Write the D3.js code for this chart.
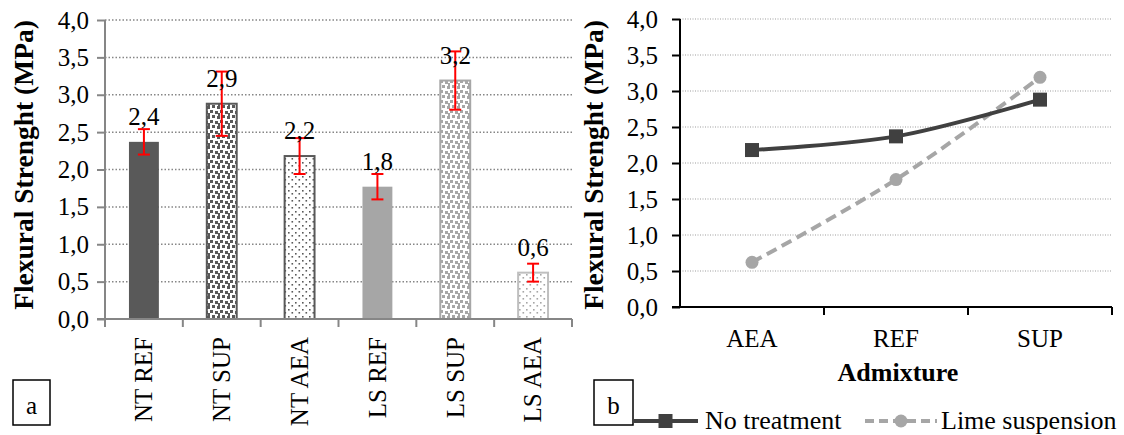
<!DOCTYPE html>
<html>
<head>
<meta charset="utf-8">
<script src="https://cdn.jsdelivr.net/npm/d3@7"></script>
<style>
  body { margin: 0; background: #fff; }
  svg { display: block; }
  svg text { font-family: "Liberation Serif", "Times New Roman", Times, Tinos, "DejaVu Serif", serif !important; fill: #000; }
</style>
</head>
<body>
<svg id="chart" width="1124" height="435"></svg>
<script>
// data
const barLabels = ['NT REF', 'NT SUP', 'NT AEA', 'LS REF', 'LS SUP', 'LS AEA'];
const barValues = [2.37, 2.88, 2.18, 1.77, 3.19, 0.62];
const barErrors = [0.17, 0.43, 0.24, 0.17, 0.39, 0.12];
const admixtures = ['AEA', 'REF', 'SUP'];
const noTreatment = [2.18, 2.37, 2.88];
const limeSuspension = [0.62, 1.77, 3.19];
const yTicks = [0, 0.5, 1, 1.5, 2, 2.5, 3, 3.5, 4];

const serif = '"Liberation Serif", "Times New Roman", Times, Tinos, "DejaVu Serif", serif';
const fmt = v => d3.format('.1f')(v).replace('.', ',');
const svg = d3.select('#chart').attr('font-family', serif);
const defs = svg.append('defs');

// fill patterns for the bars
function confetti(id, color) {
    const p = defs.append('pattern').attr('id', id).attr('patternUnits', 'userSpaceOnUse')
        .attr('width', 10).attr('height', 10);
    p.append('rect').attr('width', 10).attr('height', 10).attr('fill', '#fff');
    [[0, 0], [5, 1], [2, 5], [7, 6], [8, 3]].forEach(d => {
        p.append('rect').attr('x', d[0]).attr('y', d[1]).attr('width', 3).attr('height', 3).attr('fill', color);
    });
}
function dots(id, color) {
    const p = defs.append('pattern').attr('id', id).attr('patternUnits', 'userSpaceOnUse')
        .attr('width', 7).attr('height', 7);
    p.append('rect').attr('width', 7).attr('height', 7).attr('fill', '#fff');
    [[1, 1], [4.5, 4]].forEach(d => {
        p.append('rect').attr('x', d[0]).attr('y', d[1]).attr('width', 1.6).attr('height', 1.6).attr('fill', color);
    });
}
confetti('bigDark', '#595959');
confetti('bigLight', '#a6a6a6');
dots('smallDark', '#595959');
dots('smallLight', '#a6a6a6');
const barFill = ['#595959', 'url(#bigDark)', 'url(#smallDark)', '#a6a6a6', 'url(#bigLight)', 'url(#smallLight)'];
const barStroke = ['none', '#595959', '#595959', 'none', '#a6a6a6', '#bfbfbf'];

// ---------- panel a: bars ----------
const xa = d3.scaleBand().domain(barLabels).range([105, 572]).paddingInner(0.59).paddingOuter(0.295);
const ya = d3.scaleLinear().domain([0, 4]).range([319, 20]);
const ga = svg.append('g');

ga.selectAll('line.grid').data(yTicks.slice(1)).join('line')
    .attr('x1', 105).attr('x2', 572).attr('y1', d => ya(d)).attr('y2', d => ya(d))
    .attr('stroke', '#868686').attr('stroke-width', 1.5).attr('stroke-dasharray', '1.5,2');

ga.selectAll('rect.bar').data(barValues).join('rect')
    .attr('x', (d, i) => xa(barLabels[i]) + 1)
    .attr('y', d => ya(d))
    .attr('width', xa.bandwidth() - 2)
    .attr('height', d => ya(0) - ya(d))
    .attr('fill', (d, i) => barFill[i])
    .attr('stroke', (d, i) => barStroke[i])
    .attr('stroke-width', 2);

const cx = l => xa(l) + xa.bandwidth() / 2;
const err = ga.selectAll('g.err').data(barValues).join('g').attr('stroke', '#ff0000').attr('stroke-width', 2);
err.append('line').attr('x1', (d, i) => cx(barLabels[i])).attr('x2', (d, i) => cx(barLabels[i]))
    .attr('y1', (d, i) => ya(d + barErrors[i])).attr('y2', (d, i) => ya(d - barErrors[i]));
err.append('line').attr('x1', (d, i) => cx(barLabels[i]) - 6).attr('x2', (d, i) => cx(barLabels[i]) + 6)
    .attr('y1', (d, i) => ya(d + barErrors[i])).attr('y2', (d, i) => ya(d + barErrors[i]));
err.append('line').attr('x1', (d, i) => cx(barLabels[i]) - 6).attr('x2', (d, i) => cx(barLabels[i]) + 6)
    .attr('y1', (d, i) => ya(d - barErrors[i])).attr('y2', (d, i) => ya(d - barErrors[i]));

ga.selectAll('text.val').data(barValues).join('text')
    .attr('x', (d, i) => cx(barLabels[i])).attr('y', d => ya(d) - 17)
    .attr('text-anchor', 'middle').attr('font-size', 25).text(fmt);

const axA = ga.append('g').attr('transform', 'translate(105,0)')
    .call(d3.axisLeft(ya).tickValues(yTicks).tickFormat(fmt).tickSize(8).tickPadding(8))
    .attr('font-family', serif).attr('font-size', 25);
axA.selectAll('path,line').attr('stroke', '#868686').attr('stroke-width', 2);
axA.select('.domain').attr('d', 'M0,' + ya(4) + 'V' + ya(0));
axA.selectAll('text').attr('fill', '#000');

ga.append('line').attr('x1', 97).attr('x2', 572).attr('y1', ya(0)).attr('y2', ya(0))
    .attr('stroke', '#868686').attr('stroke-width', 2);
const boundsA = barLabels.map(l => xa(l) - xa.step() * xa.paddingInner() / 2).concat([572]);
ga.selectAll('line.xt').data(boundsA).join('line')
    .attr('x1', d => d).attr('x2', d => d).attr('y1', ya(0)).attr('y2', ya(0) + 8)
    .attr('stroke', '#868686').attr('stroke-width', 2);

ga.selectAll('text.cat').data(barLabels).join('text')
    .attr('transform', d => 'translate(' + cx(d) + ',337) rotate(-90)')
    .attr('dy', '0.33em').attr('text-anchor', 'end').attr('font-size', 25).text(d => d);

ga.append('text').attr('transform', 'translate(33,165) rotate(-90)')
    .attr('text-anchor', 'middle').attr('font-size', 27.5).attr('font-weight', 'bold')
    .text('Flexural Strenght (MPa)');

ga.append('rect').attr('x', 13).attr('y', 380).attr('width', 37).attr('height', 45)
    .attr('fill', '#fff').attr('stroke', '#000').attr('stroke-width', 1.5);
ga.append('text').attr('x', 31.5).attr('y', 414).attr('text-anchor', 'middle').attr('font-size', 25).text('a');

// ---------- panel b: lines ----------
const xb = d3.scaleBand().domain(admixtures).range([680, 1112]);
const yb = d3.scaleLinear().domain([0, 4]).range([307, 19]);
const gb = svg.append('g');
const px = a => xb(a) + xb.bandwidth() / 2;

gb.selectAll('line.grid').data(yTicks.slice(1)).join('line')
    .attr('x1', 680).attr('x2', 1112).attr('y1', d => yb(d)).attr('y2', d => yb(d))
    .attr('stroke', '#bfbfbf').attr('stroke-width', 1.5).attr('stroke-dasharray', '1,1.5');

const line = d3.line().x((d, i) => px(admixtures[i])).y(d => yb(d)).curve(d3.curveCatmullRom);
gb.append('path').datum(limeSuspension).attr('d', line).attr('fill', 'none')
    .attr('stroke', '#a6a6a6').attr('stroke-width', 4).attr('stroke-dasharray', '11,6');
gb.append('path').datum(noTreatment).attr('d', line).attr('fill', 'none')
    .attr('stroke', '#404040').attr('stroke-width', 4);

gb.selectAll('circle.ls').data(limeSuspension).join('circle')
    .attr('cx', (d, i) => px(admixtures[i])).attr('cy', d => yb(d)).attr('r', 6.5).attr('fill', '#a6a6a6');
gb.selectAll('rect.nt').data(noTreatment).join('rect')
    .attr('x', (d, i) => px(admixtures[i]) - 7).attr('y', d => yb(d) - 7)
    .attr('width', 14).attr('height', 14).attr('fill', '#404040');

const axB = gb.append('g').attr('transform', 'translate(680,0)')
    .call(d3.axisLeft(yb).tickValues(yTicks).tickFormat(fmt).tickSize(8).tickPadding(14))
    .attr('font-family', serif).attr('font-size', 25);
axB.selectAll('path,line').attr('stroke', '#000').attr('stroke-width', 2);
axB.select('.domain').attr('d', 'M0,' + yb(4) + 'V' + yb(0));
axB.selectAll('text').attr('fill', '#000');

gb.append('line').attr('x1', 672).attr('x2', 1112).attr('y1', yb(0)).attr('y2', yb(0))
    .attr('stroke', '#000').attr('stroke-width', 2);
gb.selectAll('line.xt').data(admixtures.map(a => xb(a)).slice(1).concat([1112])).join('line')
    .attr('x1', d => d).attr('x2', d => d).attr('y1', yb(0)).attr('y2', yb(0) + 8)
    .attr('stroke', '#000').attr('stroke-width', 2);
gb.selectAll('text.cat').data(admixtures).join('text')
    .attr('x', px).attr('y', 347).attr('text-anchor', 'middle').attr('font-size', 25).text(d => d);
gb.append('text').attr('x', 898).attr('y', 381).attr('text-anchor', 'middle')
    .attr('font-size', 26).attr('font-weight', 'bold').text('Admixture');

gb.append('text').attr('transform', 'translate(603,165) rotate(-90)')
    .attr('text-anchor', 'middle').attr('font-size', 27.5).attr('font-weight', 'bold')
    .text('Flexural Strenght (MPa)');

gb.append('rect').attr('x', 594).attr('y', 380).attr('width', 39).attr('height', 45)
    .attr('fill', '#fff').attr('stroke', '#000').attr('stroke-width', 1.5);
gb.append('text').attr('x', 613.5).attr('y', 414).attr('text-anchor', 'middle').attr('font-size', 25).text('b');

// legend
const legend = [
    { name: 'No treatment', color: '#404040', dash: null, marker: 'square', x0: 633, x1: 698, t: 705 },
    { name: 'Lime suspension', color: '#a6a6a6', dash: '9,5', marker: 'circle', x0: 865, x1: 937, t: 941 }
];
legend.forEach(l => {
    gb.append('line').attr('x1', l.x0).attr('x2', l.x1).attr('y1', 421).attr('y2', 421)
        .attr('stroke', l.color).attr('stroke-width', 4).attr('stroke-dasharray', l.dash);
    const mx = (l.x0 + l.x1) / 2;
    if (l.marker === 'square') {
        gb.append('rect').attr('x', mx - 7).attr('y', 414).attr('width', 14).attr('height', 14).attr('fill', l.color);
    } else {
        gb.append('circle').attr('cx', mx).attr('cy', 421).attr('r', 6.5).attr('fill', l.color);
    }
    gb.append('text').attr('x', l.t).attr('y', 429).attr('font-size', 26).text(l.name);
});
</script>
</body>
</html>
